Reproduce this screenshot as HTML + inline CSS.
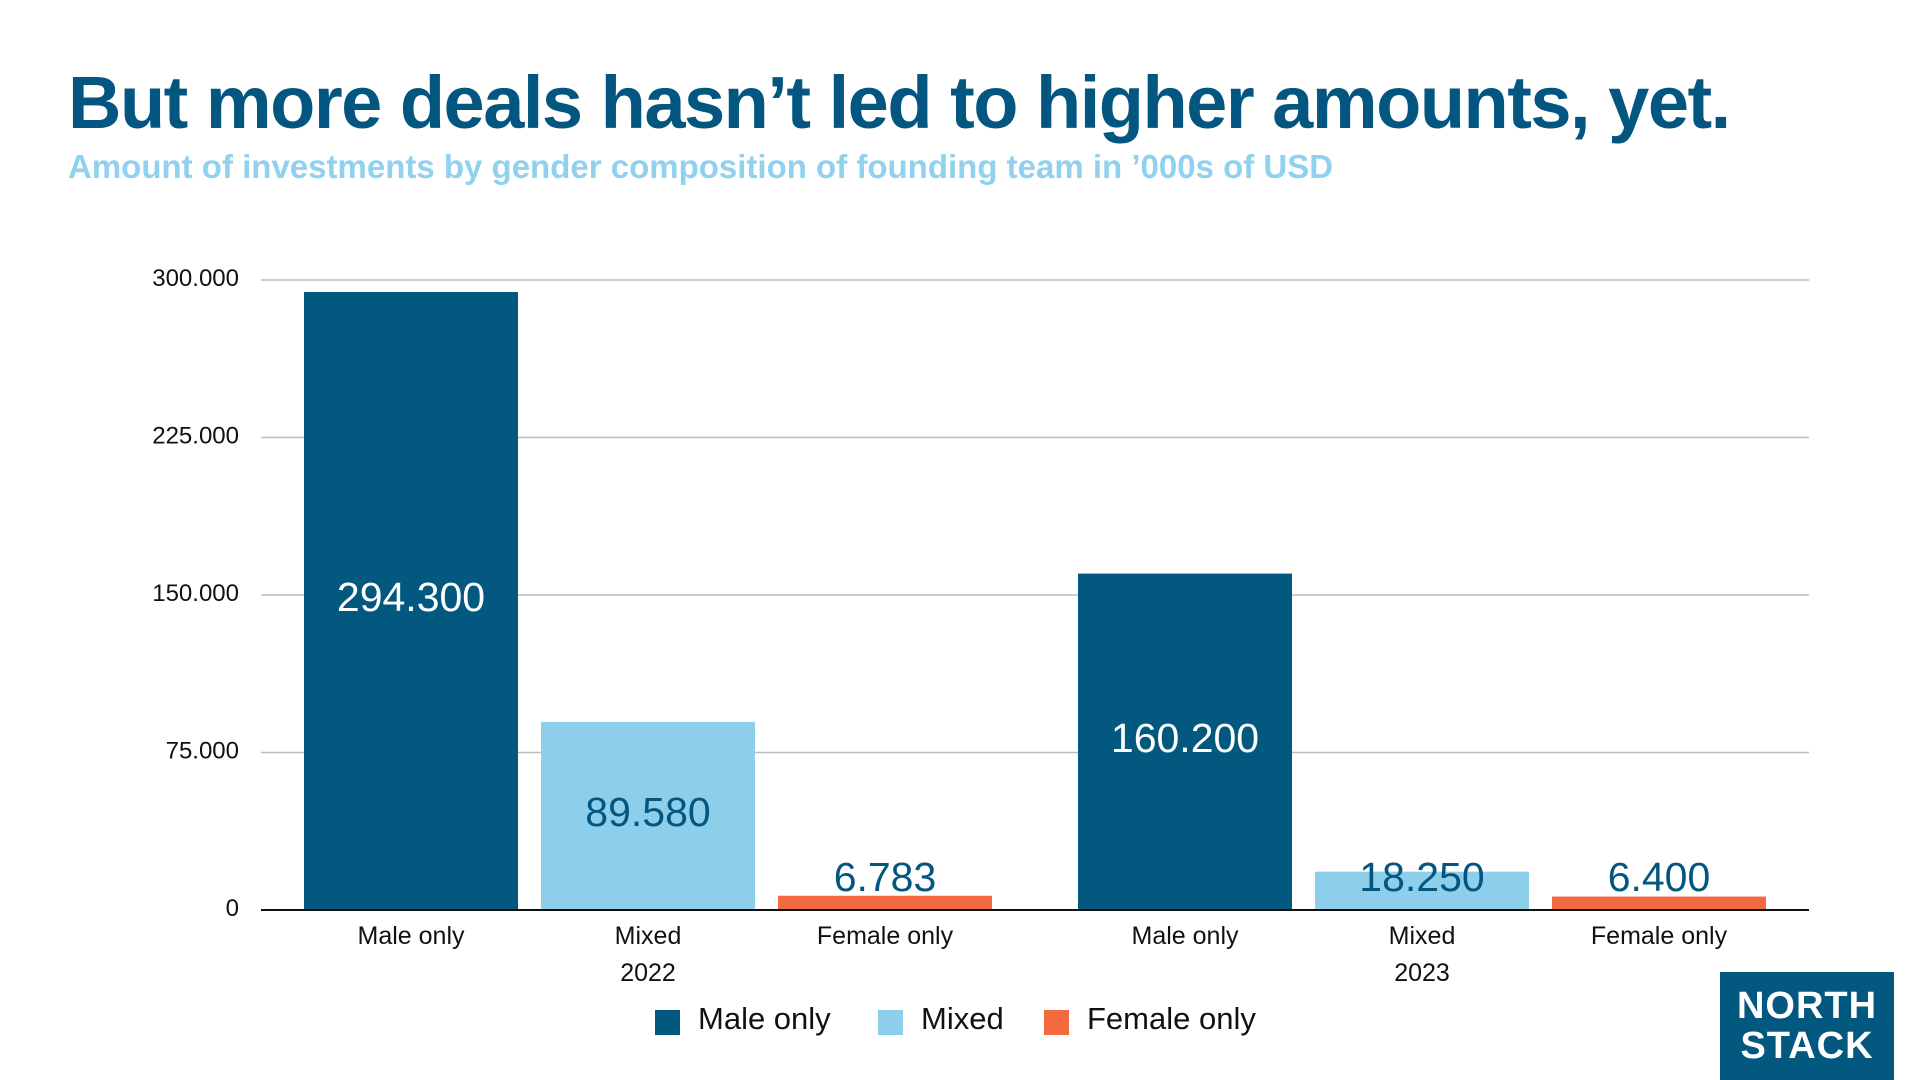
<!DOCTYPE html>
<html><head><meta charset="utf-8"><style>
html,body{margin:0;padding:0;background:#fff;width:1920px;height:1080px;overflow:hidden}
body{font-family:"Liberation Sans",sans-serif;position:relative}
#title{position:absolute;left:68px;top:60px;font-size:74px;font-weight:bold;color:#03567f;letter-spacing:-1.5px;white-space:nowrap}
#subtitle{position:absolute;left:68px;top:148px;font-size:33px;font-weight:bold;color:#8fd1ee;white-space:nowrap}
#logo{position:absolute;left:1720px;top:972px;width:174px;height:108px;background:#03587f;color:#fff;font-weight:bold;font-size:38px;line-height:40px;text-align:center;padding-top:14px;box-sizing:border-box;letter-spacing:1px}
</style></head><body>
<div id="title">But more deals hasn’t led to higher amounts, yet.</div>
<div id="subtitle">Amount of investments by gender composition of founding team in ’000s of USD</div>
<svg id="chart" width="1920" height="1080" style="position:absolute;left:0;top:0"></svg>
<div id="logo">NORTH<br>STACK</div>
<script>
const categories = ["Male only","Mixed","Female only","Male only","Mixed","Female only"];
const years = ["2022","2023"];
const values = [294300, 89580, 6783, 160200, 18250, 6400];
const valueLabels = ["294.300","89.580","6.783","160.200","18.250","6.400"];
const ticks = [0, 75000, 150000, 225000, 300000];
const tickLabels = ["0","75.000","150.000","225.000","300.000"];
const legendNames = ["Male only","Mixed","Female only"];
const colors = ["#03587f","#8dceeb","#f26a3f"];
const labelColors = ["#ffffff","#03567f","#03567f"];

const NS="http://www.w3.org/2000/svg";
const svg=document.getElementById('chart');
const y0=910, yTop=280, vMax=300000;
const y=v=>y0-(v/vMax)*(y0-yTop);
const barW=214, step=237, groupGap=63, x0=304;
const x=i=>x0+i*step+(i>=3?groupGap:0);
function mk(tag,attrs){const e=document.createElementNS(NS,tag);for(const k in attrs)e.setAttribute(k,attrs[k]);svg.appendChild(e);return e;}

ticks.forEach((t,i)=>{
  if(t>0){const g=mk('line',{x1:261,x2:1809,y1:y(t),y2:y(t),stroke:'#bdbdbd','stroke-width':1.5});
  
  }
  const tl=mk('text',{x:239,y:y(t)+6,'text-anchor':'end','font-size':24,fill:'#111','font-family':'Liberation Sans, sans-serif'});
  tl.textContent=tickLabels[i];
  
  
});

values.forEach((v,i)=>{
  const c=i%3;
  const r=mk('rect',{x:x(i),y:y(v),width:barW,height:y0-y(v),fill:colors[c]});
  
  
  const cy=Math.min((y(v)+y0)/2,881);
  const t=mk('text',{x:x(i)+barW/2,y:cy+10,'text-anchor':'middle','font-size':41,fill:labelColors[c],'font-family':'Liberation Sans, sans-serif'});
  t.textContent=valueLabels[i];
  
  
  const cl=mk('text',{x:x(i)+barW/2,y:944,'text-anchor':'middle','font-size':25,fill:'#111','font-family':'Liberation Sans, sans-serif'});
  cl.textContent=categories[i];
  
  
  if(c===1){const yl=mk('text',{x:x(i)+barW/2,y:981,'text-anchor':'middle','font-size':25,fill:'#111','font-family':'Liberation Sans, sans-serif'});
  yl.textContent=years[i<3?0:1];
  
  }
});
const ax=mk('line',{x1:261,x2:1809,y1:y0,y2:y0,stroke:'#111','stroke-width':2});



const legX=[655,878,1044];
legendNames.forEach((n,i)=>{
  const s=mk('rect',{x:legX[i],y:1010,width:25,height:25,fill:colors[i]});
  
  
  const t=mk('text',{x:legX[i]+43,y:1029,'font-size':31,fill:'#111','font-family':'Liberation Sans, sans-serif'});
  t.textContent=n;
  
  
});
</script>
</body></html>
